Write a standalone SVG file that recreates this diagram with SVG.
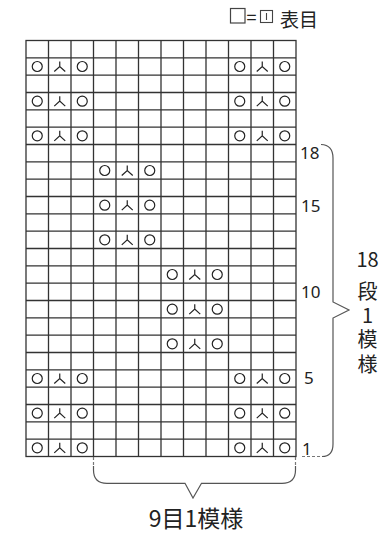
<svg xmlns="http://www.w3.org/2000/svg" xmlns:xlink="http://www.w3.org/1999/xlink" width="390" height="533" viewBox="0 0 390 533">
<style>
.grid{stroke:#333;stroke-width:1.3;fill:none}
.sym{stroke:#222;stroke-width:1.2;fill:none}
.br{stroke:#555;stroke-width:1.2;fill:none}
.dash{stroke:#777;stroke-width:1.2;fill:none;stroke-dasharray:3 2}
.num{font-family:"Noto Sans","Liberation Sans",sans-serif;font-size:17px;fill:#222}
.jp{font-family:"Noto Sans CJK JP","Noto Sans",sans-serif;fill:#222}
</style>
<defs>
<circle id="o" r="5" class="sym"/>
<path id="k" d="M0,-5 V0.5 M-5.5,5 L0,0 L5.5,5" class="sym"/>
<g id="okc">
<use xlink:href="#o" x="-22.5"/>
<use xlink:href="#k"/>
<use xlink:href="#o" x="22.5"/>
</g>
</defs>
<g id="legend">
<rect x="230.5" y="8.5" width="14.5" height="14.5" fill="#fff" stroke="#444" stroke-width="1.2"/>
<text x="246.5" y="24" class="jp" font-size="18">=</text>
<rect x="260.5" y="10.5" width="12" height="12" fill="#fff" stroke="#444" stroke-width="1.1"/>
<line x1="266.5" y1="13" x2="266.5" y2="20" stroke="#444" stroke-width="1.1"/>
<text x="280" y="26.5" class="jp" font-size="19">表目</text>
</g>
<g id="grid" class="grid">
<rect x="26" y="40.5" width="270" height="416"/>
<path d="M48.5 40.5V456.5M71 40.5V456.5M93.5 40.5V456.5M116 40.5V456.5M138.5 40.5V456.5M161 40.5V456.5M183.5 40.5V456.5M206 40.5V456.5M228.5 40.5V456.5M251 40.5V456.5M273.5 40.5V456.5"/>
<path d="M26 57.83H296M26 75.17H296M26 92.5H296M26 109.83H296M26 127.17H296M26 144.5H296M26 161.83H296M26 179.17H296M26 196.5H296M26 213.83H296M26 231.17H296M26 248.5H296M26 265.83H296M26 283.17H296M26 300.5H296M26 317.83H296M26 335.17H296M26 352.5H296M26 369.83H296M26 387.17H296M26 404.5H296M26 421.83H296M26 439.17H296"/>
</g>
<g id="symbols">
<use xlink:href="#okc" x="59.75" y="447.83"/>
<use xlink:href="#okc" x="262.25" y="447.83"/>
<use xlink:href="#okc" x="59.75" y="413.17"/>
<use xlink:href="#okc" x="262.25" y="413.17"/>
<use xlink:href="#okc" x="59.75" y="378.5"/>
<use xlink:href="#okc" x="262.25" y="378.5"/>
<use xlink:href="#okc" x="194.75" y="343.83"/>
<use xlink:href="#okc" x="194.75" y="309.17"/>
<use xlink:href="#okc" x="194.75" y="274.5"/>
<use xlink:href="#okc" x="127.25" y="239.83"/>
<use xlink:href="#okc" x="127.25" y="205.17"/>
<use xlink:href="#okc" x="127.25" y="170.5"/>
<use xlink:href="#okc" x="59.75" y="135.83"/>
<use xlink:href="#okc" x="262.25" y="135.83"/>
<use xlink:href="#okc" x="59.75" y="101.17"/>
<use xlink:href="#okc" x="262.25" y="101.17"/>
<use xlink:href="#okc" x="59.75" y="66.5"/>
<use xlink:href="#okc" x="262.25" y="66.5"/>
</g>
<g id="row-labels">
<text x="300" y="158.5" class="num">18</text>
<text x="301" y="211.5" class="num">15</text>
<text x="301" y="298.3" class="num">10</text>
<text x="304" y="384.3" class="num">5</text>
<text x="302" y="455" class="num">1</text>
</g>
<g id="connectors">
<path class="br" d="M321 144.5Q333 145 333 158V302L349 310L333 318V444Q333 456.5 322 456.5"/>
<line class="dash" x1="302" y1="456.5" x2="321" y2="456.5"/>
<line class="dash" x1="93.5" y1="457" x2="93.5" y2="466"/>
<line class="dash" x1="295.5" y1="457" x2="295.5" y2="466"/>
<path class="br" d="M93.5 466V470Q93.5 483.3 107 483.3H185L193 498L201.5 483.3H282Q295.5 483.3 295.5 470V466"/>
</g>
<g id="brace-label-right" class="jp" font-size="20" text-anchor="middle">
<text x="367.5" y="266.7">18</text>
<text x="367.5" y="298.5">段</text>
<text x="367.5" y="322.7">1</text>
<text x="367.5" y="347">模</text>
<text x="367.5" y="372">様</text>
</g>
<g id="brace-label-bottom">
<text x="196" y="527" class="jp" font-size="23" text-anchor="middle">9目1模様</text>
</g>
</svg>
